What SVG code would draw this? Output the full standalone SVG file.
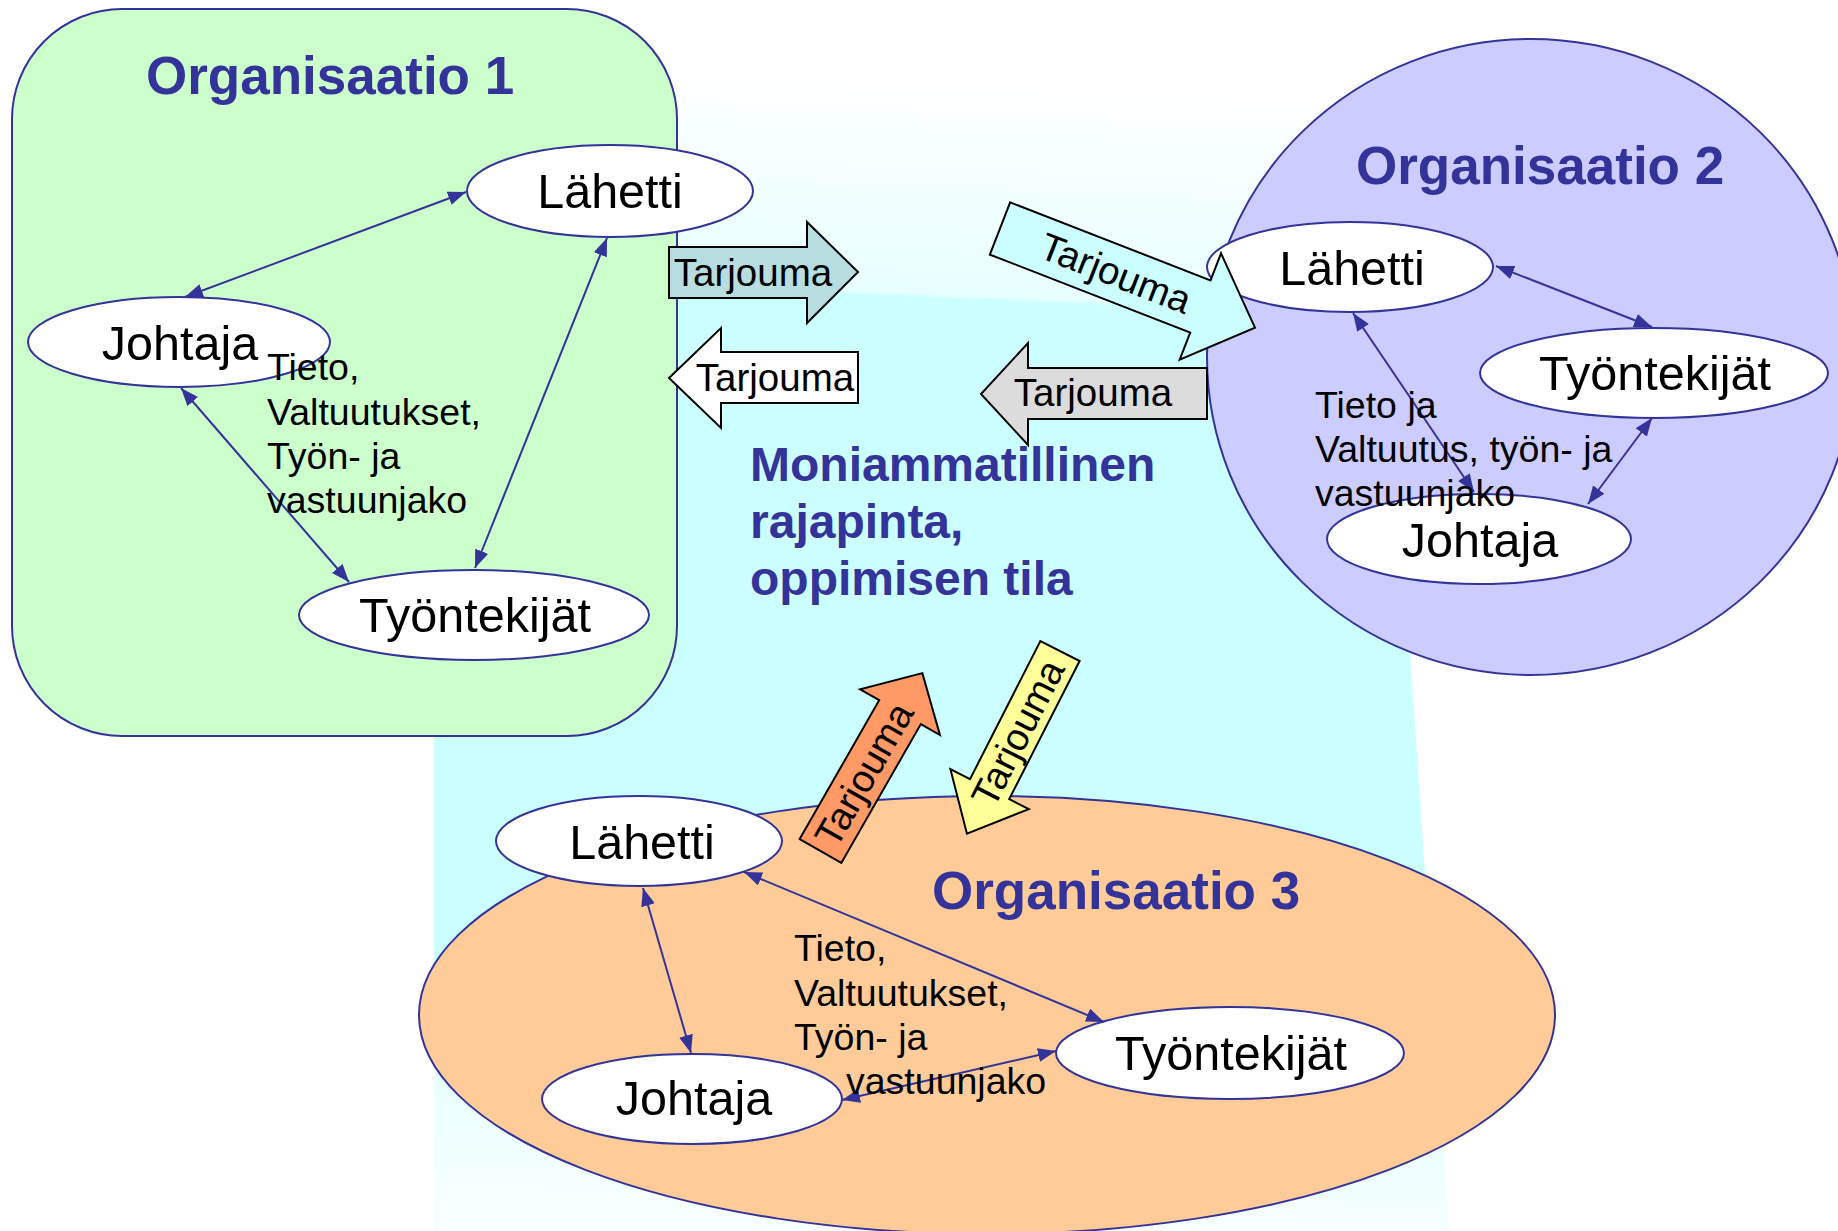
<svg xmlns="http://www.w3.org/2000/svg" width="1838" height="1231" viewBox="0 0 1838 1231">
<defs>
  <linearGradient id="bg" gradientUnits="userSpaceOnUse" x1="900" y1="66" x2="850" y2="1231">
    <stop offset="0" stop-color="#ffffff"/>
    <stop offset="0.194" stop-color="#e8ffff"/>
    <stop offset="0.198" stop-color="#ccffff"/>
    <stop offset="0.86" stop-color="#ccffff"/>
    <stop offset="0.865" stop-color="#e8ffff"/>
    <stop offset="1" stop-color="#f8ffff"/>
  </linearGradient>
  <marker id="ah" viewBox="0 0 18 14" refX="18" refY="7" markerWidth="18" markerHeight="14" markerUnits="userSpaceOnUse" orient="auto-start-reverse">
    <path d="M0,0 L18,7 L0,14 z" fill="#333399"/>
  </marker>
  <style>
    text { font-family: "Liberation Sans", Arial, sans-serif; }
    .org { stroke: #333399; stroke-width: 2; }
    .node { fill: #ffffff; stroke: #333399; stroke-width: 2; }
    .lbl { font-size: 48.5px; fill: #000000; text-anchor: middle; }
    .title { font-size: 53px; font-weight: bold; fill: #333399; }
    .mid { font-size: 48px; font-weight: bold; fill: #333399; }
    .note { font-size: 37.5px; fill: #000000; }
    .conn { stroke: #333399; stroke-width: 2; fill: none; marker-start: url(#ah); marker-end: url(#ah); }
    .arr { stroke: #000000; stroke-width: 2; stroke-linejoin: miter; }
    .atxt { font-size: 38.5px; fill: #000000; text-anchor: middle; }
  </style>
</defs>

<polygon id="rajapinta-bg" points="434,66 1373,106 1450,1240 434,1240" fill="url(#bg)"/>

<g id="org1">
  <rect x="12" y="9" width="665" height="727" rx="110" ry="110" fill="#ccffcc" class="org"/>
  <text x="146" y="94" class="title">Organisaatio 1</text>
</g>
<g id="org2">
  <ellipse cx="1531" cy="357" rx="324" ry="318" fill="#ccccff" class="org"/>
  <text x="1356" y="184" class="title">Organisaatio 2</text>
</g>
<g id="org3">
  <ellipse cx="987" cy="1015" rx="568" ry="219" fill="#ffcc99" class="org"/>
  <text x="932" y="909" class="title">Organisaatio 3</text>
</g>

<g id="mid-title">
  <text x="750" y="481" class="mid">Moniammatillinen</text>
  <text x="750" y="538" class="mid">rajapinta,</text>
  <text x="750" y="595" class="mid">oppimisen tila</text>
</g>

<g id="org1-lahetti"><ellipse cx="610" cy="191" rx="143" ry="46" class="node"/><text x="610" y="208" class="lbl">Lähetti</text></g>
<g id="org1-johtaja"><ellipse cx="179" cy="342" rx="151" ry="45" class="node"/><text x="180" y="360" class="lbl">Johtaja</text></g>
<g id="org1-tyontekijat"><ellipse cx="474" cy="615" rx="175" ry="45" class="node"/><text x="475" y="632" class="lbl">Työntekijät</text></g>

<g id="org2-lahetti"><ellipse cx="1350" cy="267" rx="143" ry="45" class="node"/><text x="1352" y="285" class="lbl">Lähetti</text></g>
<g id="org2-tyontekijat"><ellipse cx="1654" cy="373" rx="174" ry="45" class="node"/><text x="1655" y="390" class="lbl">Työntekijät</text></g>
<g id="org2-johtaja"><ellipse cx="1479" cy="539" rx="152" ry="45" class="node"/><text x="1480" y="557" class="lbl">Johtaja</text></g>

<g id="org3-lahetti"><ellipse cx="639" cy="841" rx="143" ry="45" class="node"/><text x="642" y="859" class="lbl">Lähetti</text></g>
<g id="org3-johtaja"><ellipse cx="692" cy="1099" rx="150" ry="45" class="node"/><text x="694" y="1115" class="lbl">Johtaja</text></g>
<g id="org3-tyontekijat"><ellipse cx="1230" cy="1053" rx="174" ry="46" class="node"/><text x="1231" y="1070" class="lbl">Työntekijät</text></g>

<g id="connectors">
  <line x1="466" y1="192" x2="185" y2="297" class="conn"/>
  <line x1="607" y1="238" x2="475" y2="568" class="conn"/>
  <line x1="181" y1="388" x2="349" y2="582" class="conn"/>
  <line x1="1496" y1="266" x2="1652" y2="327" class="conn"/>
  <line x1="1353" y1="313" x2="1474" y2="492" class="conn"/>
  <line x1="1652" y1="418" x2="1588" y2="504" class="conn"/>
  <line x1="643" y1="888" x2="691" y2="1053" class="conn"/>
  <line x1="744" y1="872" x2="1104" y2="1022" class="conn"/>
  <line x1="842" y1="1100" x2="1056" y2="1051" class="conn"/>
</g>

<g id="notes">
  <text class="note"><tspan x="267" y="380">Tieto,</tspan><tspan x="267" y="425">Valtuutukset,</tspan><tspan x="267" y="469">Työn- ja</tspan><tspan x="267" y="513">vastuunjako</tspan></text>
  <text class="note"><tspan x="1315" y="418">Tieto ja</tspan><tspan x="1315" y="462">Valtuutus, työn- ja</tspan><tspan x="1315" y="506">vastuunjako</tspan></text>
  <text class="note"><tspan x="794" y="961">Tieto,</tspan><tspan x="794" y="1006">Valtuutukset,</tspan><tspan x="794" y="1050">Työn- ja</tspan><tspan x="846" y="1094">vastuunjako</tspan></text>
</g>

<g id="tarjouma-org1-out">
  <polygon points="669,247 807,247 807,222 858,272 807,323 807,298 669,298" fill="#b7dde0" class="arr"/>
  <text x="753" y="286" class="atxt">Tarjouma</text>
</g>
<g id="tarjouma-org1-in">
  <polygon points="858,352 721,352 721,328 669,378 721,428 721,403 858,403" fill="#ffffff" class="arr"/>
  <text x="775" y="391" class="atxt">Tarjouma</text>
</g>
<g id="tarjouma-org2-in" transform="translate(1000,228.5) rotate(21.26)">
  <polygon points="0,-28 215,-28 215,-57 273.6,0 215,57 215,28 0,28" fill="#ccffff" class="arr"/>
  <text x="124" y="13" class="atxt">Tarjouma</text>
</g>
<g id="tarjouma-org2-out">
  <polygon points="1207,368 1028,368 1028,343 981,394 1028,445 1028,419 1207,419" fill="#dcdcdc" class="arr"/>
  <text x="1093" y="406" class="atxt">Tarjouma</text>
</g>
<g id="tarjouma-org3-out" transform="translate(820.5,851) rotate(-60.2)">
  <polygon points="0,-24 160,-24 160,-46 205,0 160,46 160,24 0,24" fill="#ff9966" class="arr"/>
  <text x="88" y="13" class="atxt">Tarjouma</text>
</g>
<g id="tarjouma-org3-in" transform="translate(1060,651) rotate(117)">
  <polygon points="0,-22 155,-22 155,-44 205,0 155,44 155,22 0,22" fill="#ffff99" class="arr"/>
  <text transform="translate(92,0) rotate(180)" x="0" y="13" class="atxt">Tarjouma</text>
</g>
</svg>
